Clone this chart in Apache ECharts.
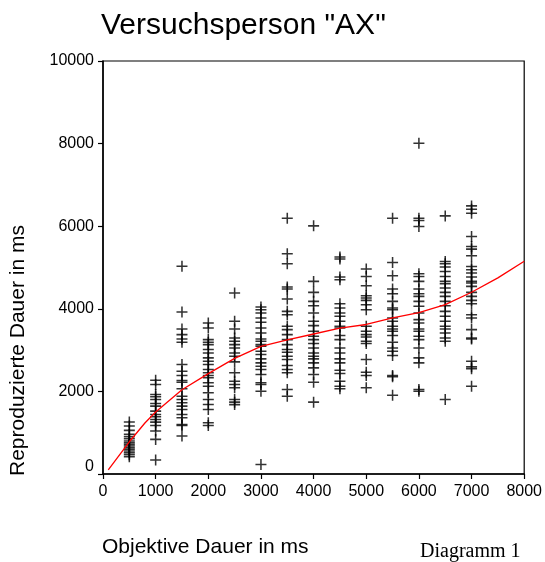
<!DOCTYPE html>
<html>
<head>
<meta charset="UTF-8">
<title>Versuchsperson AX</title>
<script src="https://cdn.jsdelivr.net/npm/echarts@6/dist/echarts.min.js"></script>
<style>
html, body { margin: 0; padding: 0; background: #fff; }
#main { width: 545px; height: 562px; }
</style>
</head>
<body>
<div id="main"></div>
<script type="text/javascript">
// objektive Dauer (ms) der einzelnen Spalten
var dauer = [500, 1000, 1500, 2000, 2500, 3000, 3500, 4000, 4500, 5000, 5500, 6000, 6500, 7000];

// reproduzierte Dauer je Spalte
var d500 = [1257, 1160, 1056, 959, 902, 855, 797, 758, 717, 677, 638, 597, 556, 517, 469, 420];
var d1000 = [2272, 2167, 1926, 1870, 1805, 1708, 1643, 1522, 1442, 1387, 1321, 1256, 1176, 1039, 838, 340];
var d1500 = [5030, 3920, 3513, 3375, 3271, 3190, 2650, 2489, 2385, 2264, 2223, 2063, 1885, 1805, 1725, 1643, 1563, 1442, 1362, 1201, 1176, 918];
var d2000 = [3657, 3537, 3254, 3190, 3133, 3012, 2932, 2812, 2731, 2650, 2530, 2450, 2385, 2329, 2208, 2126, 1966, 1805, 1684, 1563, 1242, 1176];
var d2500 = [4382, 3697, 3513, 3295, 3214, 3133, 3053, 2932, 2851, 2715, 2450, 2247, 2167, 2087, 1805, 1740, 1680];
var d3000 = [4044, 3979, 3899, 3778, 3673, 3537, 3416, 3271, 3214, 3133, 3093, 2972, 2892, 2788, 2691, 2610, 2530, 2409, 2208, 2167, 2005, 230];
var d3500 = [6194, 5332, 5091, 4527, 4479, 4238, 3938, 3858, 3576, 3496, 3375, 3254, 3133, 3012, 2948, 2851, 2771, 2626, 2530, 2450, 2046, 1885];
var d4000 = [6008, 4664, 4398, 4180, 4076, 3899, 3697, 3593, 3455, 3334, 3254, 3158, 3053, 2932, 2851, 2788, 2691, 2570, 2409, 2223, 1740];
var d4500 = [5252, 5204, 4769, 4704, 4124, 4020, 3899, 3818, 3697, 3576, 3537, 3351, 3254, 3053, 2932, 2788, 2691, 2513, 2433, 2247, 2126, 2063];
var d5000 = [4962, 4784, 4559, 4318, 4262, 4204, 4100, 3979, 3576, 3455, 3375, 3319, 3214, 3158, 2771, 2465, 2385, 2087];
var d5500 = [6194, 5122, 4801, 4479, 4366, 4180, 4020, 3979, 3778, 3697, 3576, 3513, 3455, 3351, 3190, 3053, 2972, 2868, 2385, 2353, 1909];
var d6000 = [8007, 6194, 6137, 5992, 4849, 4784, 4664, 4479, 4366, 4301, 4180, 4060, 3899, 3738, 3657, 3513, 3455, 3334, 3254, 3053, 2812, 2691, 2046, 2005];
var d6500 = [6250, 5146, 5091, 5011, 4905, 4784, 4664, 4607, 4503, 4398, 4301, 4180, 4076, 3938, 3818, 3697, 3576, 3513, 3416, 3295, 3214, 1805];
var d7000 = [6492, 6412, 6315, 5750, 5509, 5445, 5284, 5026, 4946, 4866, 4769, 4664, 4624, 4543, 4398, 4301, 4204, 4124, 3858, 3778, 3496, 3295, 3271, 2731, 2594, 2546, 2126];

// Anpassungskurve
var kurveX = [100, 500, 800, 1000, 1500, 2000, 2500, 3000, 3500, 4000, 4500, 5000, 5500, 6000, 6500, 7000, 7500, 8000];
var kurveY = [100, 780, 1240, 1500, 2040, 2430, 2800, 3090, 3250, 3390, 3530, 3620, 3780, 3910, 4100, 4400, 4750, 5150];

var spalten = [d500, d1000, d1500, d2000, d2500, d3000, d3500, d4000, d4500, d5000, d5500, d6000, d6500, d7000];
var punkte = [];
for (var i = 0; i < dauer.length; i++) {
    for (var j = 0; j < spalten[i].length; j++) {
        punkte.push([dauer[i], spalten[i][j]]);
    }
}
var kurve = [];
for (var k = 0; k < kurveX.length; k++) {
    kurve.push([kurveX[k], kurveY[k]]);
}

var plus = 'path://M4.3,0H5.7V4.3H10V5.7H5.7V10H4.3V5.7H0V4.3H4.3Z';
var font = 'Liberation Sans, Arial, sans-serif';

var option = {
    backgroundColor: '#fff',
    animation: false,
    title: {
        text: 'Versuchsperson "AX"',
        left: 101,
        top: 11,
        padding: 0,
        textStyle: { fontFamily: font, fontSize: 30, fontWeight: 'normal', color: '#000' }
    },
    grid: {
        left: 103, right: 19, top: 61, bottom: 88,
        show: true, borderColor: '#000', borderWidth: 1.2, backgroundColor: 'transparent'
    },
    graphic: [
        {
            type: 'text', left: 102, top: 537,
            style: { text: 'Objektive Dauer in ms', fontFamily: font, fontSize: 21, fill: '#000' }
        },
        {
            type: 'text', x: 8, y: 476, rotation: Math.PI / 2,
            style: { text: 'Reproduzierte Dauer in ms', fontFamily: font, fontSize: 21, fill: '#000', align: 'left', verticalAlign: 'top' }
        },
        {
            type: 'text', left: 420, top: 542,
            style: { text: 'Diagramm 1', fontFamily: 'Liberation Serif, Times New Roman, serif', fontSize: 20, fill: '#000' }
        }
    ],
    xAxis: {
        type: 'value', min: 0, max: 8000, interval: 1000,
        axisLine: { lineStyle: { color: '#000', width: 1.5 } },
        axisTick: { show: true, inside: false, length: 5, lineStyle: { color: '#000', width: 1.2 } },
        axisLabel: {
            color: '#000', fontFamily: font, fontSize: 16, margin: 10,
            formatter: function (v) { return String(v); }
        },
        splitLine: { show: false }
    },
    yAxis: {
        type: 'value', min: 0, max: 10000, interval: 2000,
        axisLine: { show: true, lineStyle: { color: '#000', width: 1.5 } },
        axisTick: { show: true, inside: false, length: 5, lineStyle: { color: '#000', width: 1.2 } },
        axisLabel: {
            color: '#000', fontFamily: font, fontSize: 16, margin: 9,
            formatter: function (v) { return v === 0 ? '{z|0}' : String(v); },
            rich: { z: { fontFamily: font, fontSize: 16, color: '#000', padding: [0, 0, 14, 0] } }
        },
        splitLine: { show: false }
    },
    series: [
        {
            name: 'Werte',
            type: 'scatter',
            symbol: plus,
            symbolSize: 11,
            itemStyle: { color: '#000' },
            data: punkte
        },
        {
            name: 'Kurve',
            type: 'line',
            smooth: false,
            showSymbol: false,
            lineStyle: { color: '#ff0000', width: 1.3 },
            data: kurve
        }
    ]
};

var myChart = echarts.init(document.getElementById('main'));
myChart.setOption(option);
</script>
</body>
</html>
